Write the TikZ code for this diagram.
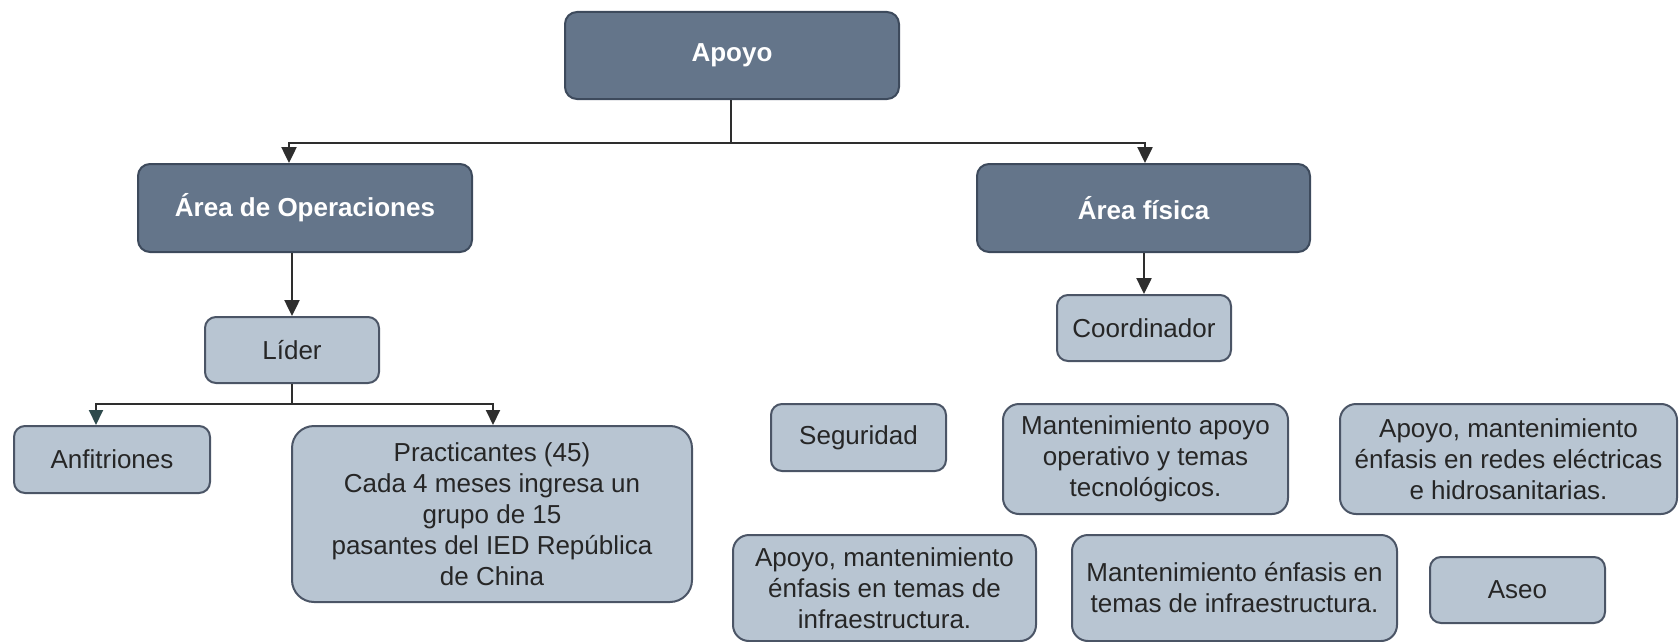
\documentclass[tikz,border=0pt]{standalone}
\usepackage{fontspec}
\setmainfont{Liberation Sans}
\usetikzlibrary{arrows.meta}
\definecolor{darkfill}{HTML}{64758A}
\definecolor{darkline}{HTML}{3D4A5C}
\definecolor{lightfill}{HTML}{B8C5D2}
\definecolor{lightline}{HTML}{4B5566}
\definecolor{conn}{HTML}{2E2E2E}
\definecolor{tealarr}{HTML}{2E4A4C}
\definecolor{txt}{HTML}{262626}
\tikzset{
  darkbox/.style={draw=darkline, fill=darkfill, line width=2pt, rounded corners=12pt,
    text=white, font=\fontsize{26pt}{31pt}\selectfont\bfseries, align=center, inner sep=0pt},
  lightbox/.style={draw=lightline, fill=lightfill, line width=2pt, rounded corners=11pt,
    text=txt, font=\fontsize{26pt}{31pt}\selectfont, align=center, inner sep=0pt},
  arr/.style={draw=conn, line width=2.5pt, -{Triangle[length=16pt,width=15pt]}},
  plainline/.style={draw=conn, line width=2.5pt}
}
\begin{document}
\begin{tikzpicture}[x=1pt, y=-1pt]
\useasboundingbox (0,0) rectangle (1679,642);
% top level
\node[darkbox, minimum width=334pt, minimum height=87pt] (apoyo) at (732,55.5) {Apoyo};
\node[darkbox, minimum width=334pt, minimum height=88pt] (ops) at (305,208) {Área de Operaciones};
\node[darkbox, minimum width=333pt, minimum height=88pt] (fis) at (1143.5,208) {Área física};
% second level
\node[lightbox, minimum width=174pt, minimum height=66pt] (lider) at (292,350) {Líder};
\node[lightbox, minimum width=174pt, minimum height=66pt] (coord) at (1144,328) {Coordinador};
% left bottom
\node[lightbox, minimum width=196pt, minimum height=67pt] (anf) at (112,459.5) {Anfitriones};
\node[lightbox, minimum width=400pt, minimum height=176pt, rounded corners=22pt] (prac) at (492,514)
  {Practicantes (45)\\Cada 4 meses ingresa un\\grupo de 15\\pasantes del IED República\\de China};
% right bottom
\node[lightbox, minimum width=175pt, minimum height=67pt] (seg) at (858.5,437.5) {Seguridad};
\node[lightbox, minimum width=285pt, minimum height=110pt, rounded corners=16pt] (mant1) at (1145.5,459)
  {Mantenimiento apoyo\\operativo y temas\\tecnológicos.};
\node[lightbox, minimum width=337pt, minimum height=110pt, rounded corners=16pt] (redes) at (1508.5,459)
  {Apoyo, mantenimiento\\énfasis en redes eléctricas\\e hidrosanitarias.};
\node[lightbox, minimum width=303pt, minimum height=106pt, rounded corners=16pt] (infra) at (884.5,588)
  {Apoyo, mantenimiento\\énfasis en temas de\\infraestructura.};
\node[lightbox, minimum width=325pt, minimum height=106pt, rounded corners=16pt] (mant2) at (1234.5,588)
  {Mantenimiento énfasis en\\temas de infraestructura.};
\node[lightbox, minimum width=175pt, minimum height=66pt] (aseo) at (1517.5,590) {Aseo};
% connectors
\coordinate (j1) at (731,143);
\coordinate (j2) at (292,404);
\draw[plainline] ([xshift=-1pt]apoyo.south) -- (j1);
\draw[arr] (j1) -| ([xshift=-16pt]ops.north);
\draw[arr] (j1) -| ([xshift=1.5pt]fis.north);
\draw[arr] ([xshift=-13pt]ops.south) -- (lider.north);
\draw[arr] (coord.north |- fis.south) -- (coord.north);
\draw[plainline, line width=2pt] (lider.south) -- (j2);
\draw[draw=conn, line width=2pt, -{Triangle[length=15pt,width=14pt,color=tealarr]}] (j2) -| ([xshift=-16pt]anf.north);
\draw[draw=conn, line width=2pt, -{Triangle[length=15pt,width=14pt]}] (j2) -| ([xshift=1pt]prac.north);
\end{tikzpicture}
\end{document}
